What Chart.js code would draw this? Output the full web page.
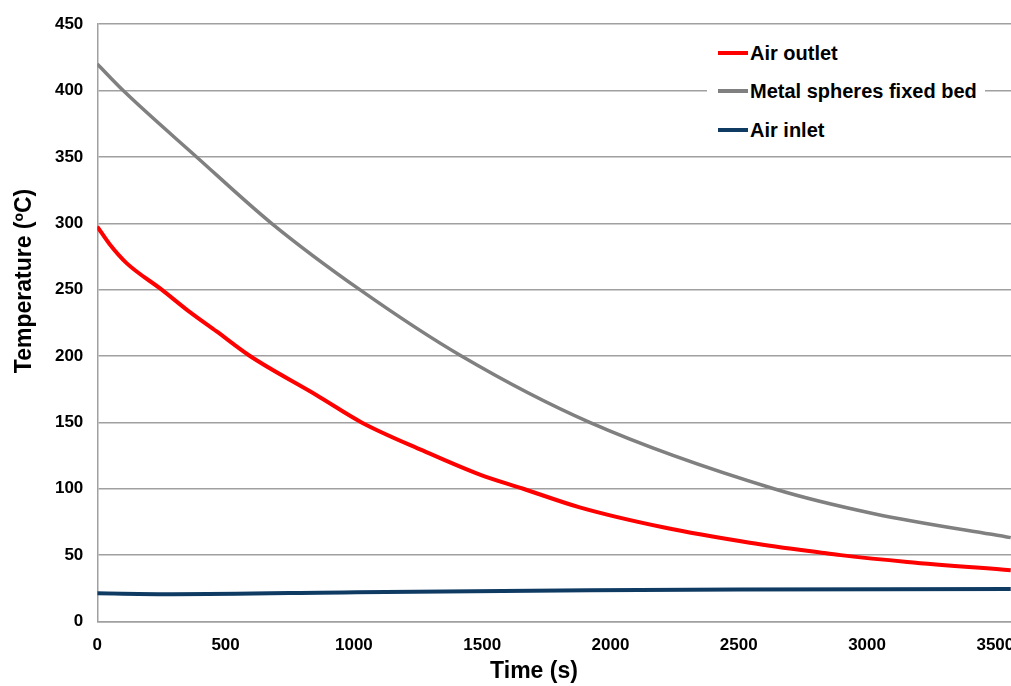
<!DOCTYPE html>
<html><head><meta charset="utf-8">
<script src="https://cdn.jsdelivr.net/npm/chart.js@4.4.1/dist/chart.umd.min.js"></script>
<style>
html,body{margin:0;padding:0;background:#fff;overflow:hidden;width:1011px;height:686px;}
#wrap{position:relative;width:1040px;height:686px;}
canvas{display:block}
#legend{position:absolute;left:707px;top:32px;width:278px;height:112px;background:#fff;font:bold 20px "Liberation Sans",Arial,sans-serif;color:#000;}
.item{position:absolute;left:11px;height:24px;display:flex;align-items:center;white-space:nowrap}
.sw{width:30px;height:4px;margin-right:2px}
</style></head><body>
<div id="wrap"><canvas id="c" width="1040" height="686"></canvas><div id="legend"></div></div>
<script>
// Data (time in s, temperature in ºC)
const outletTime = [0, 49, 114, 251, 348, 465, 595, 855, 1030, 1270, 1491, 1660, 1880, 2205, 2543, 2832, 2897, 3157, 3560];
const outletTemp = [297.5, 284, 270, 250, 235, 218.5, 200, 170.5, 150, 128.7, 110.7, 100, 86, 71, 59.4, 51.6, 50, 44.9, 38.6];
const bedTime = [0, 101, 387, 679, 1023, 1419, 1919, 2637, 3027, 3560];
const bedTemp = [420, 400, 350, 300, 250, 200, 150, 100, 81.2, 63.2];
const inletTime = [0, 295, 1010, 1920, 2500, 3560];
const inletTemp = [21.2, 20.6, 22.1, 23.6, 24.2, 24.4];
const seriesNames = ["Air outlet", "Metal spheres fixed bed", "Air inlet"];
const seriesColors = ["#FF0000", "#808080", "#0F3B63"];
const xTicks = [0, 500, 1000, 1500, 2000, 2500, 3000, 3500];
const yTicks = [0, 50, 100, 150, 200, 250, 300, 350, 400, 450];
const xTitle = "Time (s)";
const yTitle = "Temperature (ºC)";

const toXY = (xs, ys) => xs.map((x, i) => ({x: x, y: ys[i]}));
const FONT = '"Liberation Sans", Arial, sans-serif';
const mk = (i, xs, ys, w) => ({
  label: seriesNames[i], data: toXY(xs, ys), borderColor: seriesColors[i],
  backgroundColor: seriesColors[i], borderWidth: w, pointRadius: 0,
  cubicInterpolationMode: 'monotone', fill: false
});

// axis titles drawn at their reference positions (the plot runs past the picture edge)
const titlesPlugin = {
  id: 'axisTitles',
  afterDraw(c) {
    const ctx = c.ctx;
    ctx.save();
    ctx.font = 'bold 23px ' + FONT;
    ctx.fillStyle = '#000';
    ctx.textAlign = 'center';
    ctx.textBaseline = 'middle';
    ctx.fillText(xTitle, 534, 672);
    ctx.translate(24.5, 281);
    ctx.rotate(-Math.PI / 2);
    ctx.fillText(yTitle, 0, 0);
    ctx.restore();
  }
};

const chart = new Chart(document.getElementById('c'), {
  type: 'line',
  data: { datasets: [
    mk(0, outletTime, outletTemp, 4),
    mk(1, bedTime, bedTemp, 3.5),
    mk(2, inletTime, inletTemp, 4)
  ]},
  options: {
    responsive: false, animation: false, devicePixelRatio: 1,
    layout: { padding: { left: 0, top: 22, right: 19, bottom: 0 } },
    plugins: { legend: { display: false }, tooltip: { enabled: false } },
    scales: {
      x: {
        type: 'linear', min: 0, max: 3600,
        afterBuildTicks: s => { s.ticks = xTicks.map(v => ({value: v})); },
        afterFit: s => { s.height = 64.5; },
        grid: { display: false },
        border: { display: true, color: '#A0A0A0', width: 1.5 },
        ticks: { color: '#000', font: { family: FONT, size: 17, weight: 'bold' }, padding: 6, maxRotation: 0,
                 callback: v => String(v) },
        title: { display: false }
      },
      y: {
        min: 0, max: 450,
        afterBuildTicks: s => { s.ticks = yTicks.map(v => ({value: v})); },
        afterFit: s => { s.width = 97.3; },
        grid: { color: '#A0A0A0', lineWidth: 1.5, drawTicks: false },
        border: { display: true, color: '#A0A0A0', width: 1.5 },
        ticks: { color: '#000', font: { family: FONT, size: 17, weight: 'bold' }, padding: 14, callback: v => String(v) },
        title: { display: false }
      }
    }
  },
  plugins: [titlesPlugin]
});

// HTML legend inside the plot area, built from the datasets
const lg = document.getElementById('legend');
const tops = [9, 47, 86];
chart.data.datasets.forEach((d, i) => {
  const it = document.createElement('div');
  it.className = 'item'; it.style.top = tops[i] + 'px';
  const sw = document.createElement('span'); sw.className = 'sw'; sw.style.background = d.borderColor;
  const tx = document.createElement('span'); tx.textContent = d.label;
  it.appendChild(sw); it.appendChild(tx); lg.appendChild(it);
});
</script>
</body></html>
